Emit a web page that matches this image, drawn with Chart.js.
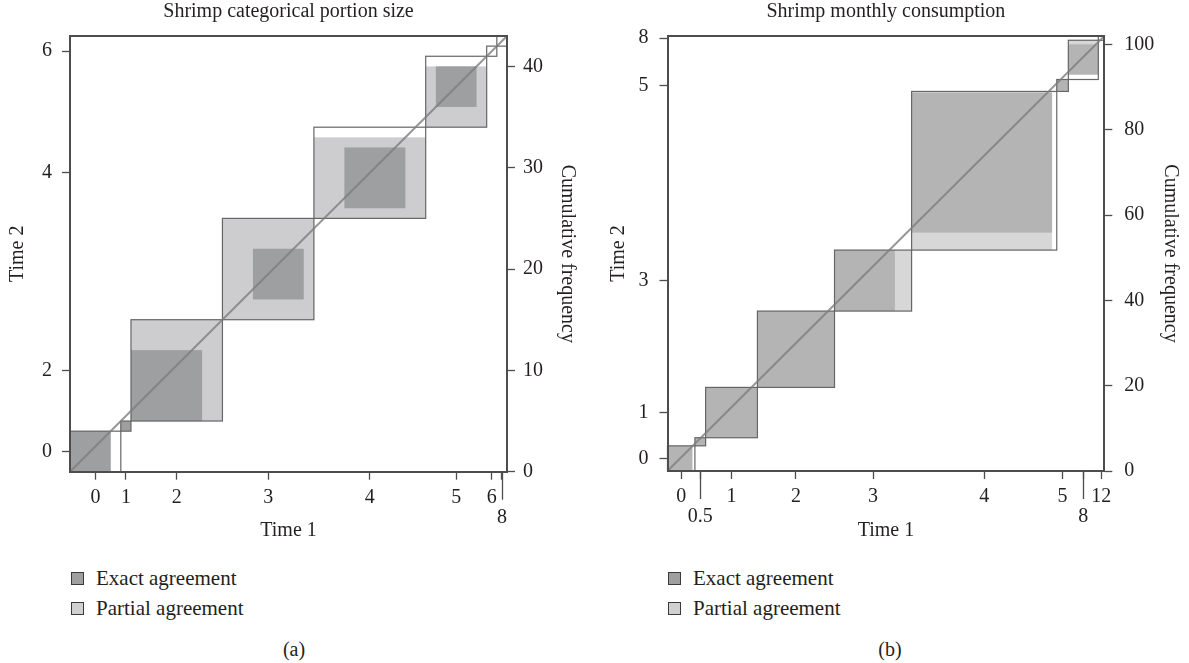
<!DOCTYPE html>
<html>
<head>
<meta charset="utf-8">
<script src="https://cdn.jsdelivr.net/npm/chart.js@4.4.1/dist/chart.umd.min.js"></script>
<style>
  body { margin: 0; background: #fff; font-family: 'Liberation Serif', 'DejaVu Serif', serif; color: #231f20; }
  canvas { position: absolute; top: 0; }
  #chartA { left: 0; }
  #chartB { left: 594px; }
  .sw { position: absolute; width: 11px; height: 11px; border: 1px solid #3a3a3a; }
  .lbl { position: absolute; font-size: 21px; line-height: 24px; white-space: nowrap; }
  .cap { position: absolute; top: 637px; width: 100px; text-align: center; font-size: 20px; line-height: 24px; }
</style>
</head>
<body>
<canvas id="chartA" width="594" height="545"></canvas>
<canvas id="chartB" width="595" height="545"></canvas>

<div class="sw" style="left:71px; top:572px; background:#9e9fa1"></div>
<div class="lbl" style="left:96px; top:566px">Exact agreement</div>
<div class="sw" style="left:71px; top:602px; background:#d0d0d2"></div>
<div class="lbl" style="left:96px; top:596px">Partial agreement</div>
<div class="cap" style="left:244px">(a)</div>

<div class="sw" style="left:668px; top:572px; background:#9e9fa1"></div>
<div class="lbl" style="left:693px; top:566px">Exact agreement</div>
<div class="sw" style="left:668px; top:602px; background:#d0d0d2"></div>
<div class="lbl" style="left:693px; top:596px">Partial agreement</div>
<div class="cap" style="left:840px">(b)</div>

<script>
// (a) Shrimp categorical portion size
const aXLabels = ['0', '1', '2', '3', '4', '5', '6', ['', '8']];
const aYLabels = ['0', '', '2', '', '4', '', '6', ''];
const aColTotals = [5, 1, 9, 9, 11, 6, 1, 1];      // Time 1
const aRowTotals = [4, 1, 10, 10, 9, 7, 1, 1];     // Time 2
const aExactW = [4, 1, 7, 5, 6, 4, 0, 0];
const aExactH = [4, 1, 7, 5, 6, 4, 0, 0];
const aExactShiftX = [0, 0, 0, 3, 3, 1, 0, 0];
const aExactShiftY = [0, 0, 0, 2, 1, 2, 0, 0];
const aPartialW = [4, 1, 9, 9, 11, 6, 0, 0];
const aPartialH = [4, 1, 10, 10, 8, 6, 0, 0];
const aPartialShiftY = [0, 0, 0, 0, 0, 0, 0, 0];
const aFreqTicks = [0, 10, 20, 30, 40];

// (b) Shrimp monthly consumption
const bXLabels = ['0', ['', '0.5'], '1', '2', '3', '4', '5', ['', '8'], '12'];
const bYLabels = ['0', '', '1', '', '3', '', '5', '', '8'];
const bColTotals = [6.4, 2.5, 12.1, 18, 18, 33.9, 2.7, 7, 1.4];
const bRowTotals = [5.9, 1.9, 11.8, 17.9, 14.3, 37.2, 2.8, 9.2, 1.0];
const bExactW = [5.8, 2.5, 12.1, 18, 14.1, 32.8, 2.7, 7, 0];
const bExactH = [5.9, 1.9, 11.8, 17.9, 14.3, 32.8, 2.8, 7.1, 0];
const bExactShiftX = [0, 0, 0, 0, 0, 0, 0, 0, 0];
const bExactShiftY = [0, 0, 0, 0, 0, 4.1, 0, 1.15, 0];
const bPartialW = [5.8, 2.5, 12.1, 18, 18, 32.8, 2.7, 7, 0];
const bPartialH = [5.9, 1.9, 11.8, 17.9, 14.3, 37.2, 2.8, 8.05, 0];
const bPartialShiftY = [0, 0, 0, 0, 0, 0, 0, 1.15, 0];
const bFreqTicks = [0, 20, 40, 60, 80, 100];

const FONT = "'Liberation Serif', 'DejaVu Serif', serif";
const INK = '#231f20';
const AXIS = '#4d4d4d';

function starts(arr) {
    const out = [];
    let s = 0;
    arr.forEach(v => { out.push(s); s += v; });
    return out;
}

function makeChart(id, p) {
    const N = p.colTotals.reduce((a, b) => a + b, 0);
    const colStart = starts(p.colTotals);
    const rowStart = starts(p.rowTotals);
    const xTicks = p.xLabels.map((l, i) => ({ value: colStart[i] + p.colTotals[i] / 2, label: l }));
    const yTicks = p.yLabels.map((l, i) => ({ value: rowStart[i] + p.rowTotals[i] / 2, label: l }))
        .filter(t => t.label !== '');

    const boxes = {
        id: 'agreementBoxes',
        beforeDatasetsDraw(chart) {
            const { ctx, scales: { x, y } } = chart;
            const px = (x0, y0, w, h) => {
                const l = x.getPixelForValue(x0), r = x.getPixelForValue(x0 + w);
                const t = y.getPixelForValue(y0 + h), b = y.getPixelForValue(y0);
                return [l, t, r - l, b - t];
            };
            ctx.save();
            p.colTotals.forEach((c, i) => {
                if (p.partialW[i] > 0) {
                    ctx.fillStyle = p.partialColor;
                    ctx.fillRect(...px(colStart[i], rowStart[i] + p.partialShiftY[i], p.partialW[i], p.partialH[i]));
                }
                if (p.exactW[i] > 0) {
                    ctx.fillStyle = p.exactColor;
                    ctx.fillRect(...px(colStart[i] + p.exactShiftX[i], rowStart[i] + p.exactShiftY[i], p.exactW[i], p.exactH[i]));
                }
            });
            ctx.strokeStyle = '#666';
            ctx.lineWidth = 1.2;
            p.colTotals.forEach((c, i) => {
                ctx.strokeRect(...px(colStart[i], rowStart[i], c, p.rowTotals[i]));
            });
            ctx.restore();
        },
        afterDraw(chart) {
            // long leader ticks for the labels pushed to a second line
            const { ctx, scales: { x } } = chart;
            ctx.save();
            ctx.strokeStyle = AXIS;
            ctx.lineWidth = 1.3;
            xTicks.forEach(t => {
                if (Array.isArray(t.label)) {
                    const xp = Math.round(x.getPixelForValue(t.value)) + 0.5;
                    ctx.beginPath();
                    ctx.moveTo(xp, x.top);
                    ctx.lineTo(xp, x.top + 28);
                    ctx.stroke();
                }
            });
            ctx.restore();
        }
    };

    const tickFont = { family: FONT, size: 20, lineHeight: 1 };
    const titleFont = { family: FONT, size: 20, lineHeight: 1.2 };
    const border = { color: AXIS, width: 2, z: 1 };
    const grid = { drawOnChartArea: false, tickLength: 8, tickColor: AXIS, tickWidth: 1.3 };

    return new Chart(document.getElementById(id), {
        type: 'line',
        data: {
            datasets: [{
                data: [{ x: 0, y: 0 }, { x: N, y: N }],
                borderColor: 'rgba(125,125,125,0.8)',
                borderWidth: 2,
                pointRadius: 0
            }]
        },
        options: {
            responsive: false,
            animation: false,
            layout: { padding: 0 },
            plugins: {
                legend: { display: false },
                tooltip: { enabled: false },
                title: {
                    display: true,
                    text: p.title,
                    fullSize: false,
                    color: INK,
                    font: { family: FONT, size: 20, weight: 'normal', lineHeight: 1.2 },
                    padding: { top: 0, bottom: 12 }
                }
            },
            scales: {
                x: {
                    type: 'linear', position: 'bottom', min: 0, max: N,
                    afterBuildTicks: ax => { ax.ticks = xTicks.map(t => ({ value: t.value })); },
                    afterFit: ax => { ax.height = p.bottomH; },
                    ticks: {
                        autoSkip: false, maxRotation: 0, minRotation: 0, padding: 8,
                        color: INK, font: tickFont,
                        callback: (v, i) => xTicks[i].label
                    },
                    grid: grid,
                    border: border,
                    title: { display: true, text: 'Time 1', color: INK, font: titleFont, padding: { top: 0, bottom: 2 } }
                },
                xTop: {
                    type: 'linear', position: 'top', min: 0, max: N,
                    afterFit: ax => { ax.height = 0; },
                    ticks: { display: false },
                    grid: { drawOnChartArea: false, drawTicks: false },
                    border: border
                },
                y: {
                    type: 'linear', position: 'left', min: 0, max: N,
                    afterBuildTicks: ax => { ax.ticks = yTicks.map(t => ({ value: t.value })); },
                    afterFit: ax => { ax.width = p.leftW; },
                    ticks: {
                        autoSkip: false, padding: p.leftPad, color: INK, font: tickFont,
                        callback: (v, i) => yTicks[i].label
                    },
                    grid: grid,
                    border: border,
                    title: { display: true, text: 'Time 2', color: INK, font: titleFont, padding: { top: p.leftTitlePad, bottom: 0 } }
                },
                y2: {
                    type: 'linear', position: 'right', min: 0, max: N,
                    afterBuildTicks: ax => { ax.ticks = p.freqTicks.map(v => ({ value: v })); },
                    afterFit: ax => { ax.width = p.rightW; },
                    ticks: {
                        autoSkip: false, padding: p.rightPad, color: INK, font: tickFont,
                        callback: v => String(v)
                    },
                    grid: grid,
                    border: border,
                    title: { display: true, text: 'Cumulative frequency', color: INK, font: titleFont, padding: { top: p.rightTitlePad, bottom: 0 } }
                }
            }
        },
        plugins: [boxes]
    });
}

makeChart('chartA', {
    title: 'Shrimp categorical portion size',
    xLabels: aXLabels, yLabels: aYLabels,
    colTotals: aColTotals, rowTotals: aRowTotals,
    exactW: aExactW, exactH: aExactH, exactShiftX: aExactShiftX, exactShiftY: aExactShiftY,
    partialW: aPartialW, partialH: aPartialH, partialShiftY: aPartialShiftY,
    freqTicks: aFreqTicks,
    exactColor: '#9e9fa1', partialColor: '#cdcdcf',
    leftW: 70, rightW: 87, bottomH: 73.3,
    leftPad: 10, rightPad: 8, leftTitlePad: 6, rightTitlePad: 15
});

makeChart('chartB', {
    title: 'Shrimp monthly consumption',
    xLabels: bXLabels, yLabels: bYLabels,
    colTotals: bColTotals, rowTotals: bRowTotals,
    exactW: bExactW, exactH: bExactH, exactShiftX: bExactShiftX, exactShiftY: bExactShiftY,
    partialW: bPartialW, partialH: bPartialH, partialShiftY: bPartialShiftY,
    freqTicks: bFreqTicks,
    exactColor: '#b4b4b4', partialColor: '#d7d7d7',
    leftW: 73.5, rightW: 84.7, bottomH: 74,
    leftPad: 11, rightPad: 12, leftTitlePad: 13, rightTitlePad: 7
});
</script>
</body>
</html>
